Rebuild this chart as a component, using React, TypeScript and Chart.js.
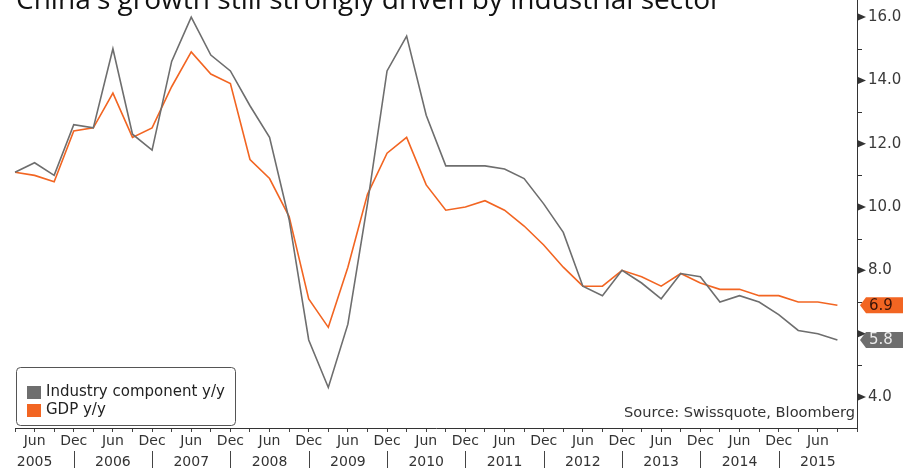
import React, { useEffect, useRef } from "react";
import { Chart, registerables } from "chart.js";

Chart.register(...registerables);

const TITLE = "China's growth still strongly driven by industrial sector";
const SOURCE = "Source: Swissquote, Bloomberg";
const seriesNames = ["Industry component y/y", "GDP y/y"];
const seriesColors = ["#6e6e6e", "#f26522"];

const years = ["2005", "2006", "2007", "2008", "2009", "2010", "2011", "2012", "2013", "2014", "2015"];
const quarterMonths = ["Mar", "Jun", "Sep", "Dec"];

// Quarterly, Q1 2005 .. Q3 2015
const industry = [
  11.1, 11.4, 11.0, 12.6, 12.5, 15.0, 12.3, 11.8, 14.6, 16.0, 14.8, 14.3,
  13.2, 12.2, 9.6, 5.8, 4.3, 6.3, 10.1, 14.3, 15.4, 12.9, 11.3, 11.3,
  11.3, 11.2, 10.9, 10.1, 9.2, 7.5, 7.2, 8.0, 7.6, 7.1, 7.9, 7.8,
  7.0, 7.2, 7.0, 6.6, 6.1, 6.0, 5.8,
];
const gdp = [
  11.1, 11.0, 10.8, 12.4, 12.5, 13.6, 12.2, 12.5, 13.8, 14.9, 14.2, 13.9,
  11.5, 10.9, 9.7, 7.1, 6.2, 8.1, 10.4, 11.7, 12.2, 10.7, 9.9, 10.0,
  10.2, 9.9, 9.4, 8.8, 8.1, 7.5, 7.5, 8.0, 7.8, 7.5, 7.9, 7.6,
  7.4, 7.4, 7.2, 7.2, 7.0, 7.0, 6.9,
];

const yTickValues = [4, 6, 8, 10, 12, 14, 16];
const yMinorValues = [5, 7, 9, 11, 13, 15];
const Y_MIN = 3.02;
const Y_MAX = 16.54;

const categories: string[] = [];
years.forEach((y) => quarterMonths.forEach((m) => categories.push(`${m} ${y}`)));

const FONT = "'DejaVu Sans', sans-serif";

const decorPlugin = {
  id: "decor",
  afterDraw(chart: any) {
    const ctx: CanvasRenderingContext2D = chart.ctx;
    const area = chart.chartArea;
    const xs = chart.scales.x;
    const ys = chart.scales.y;
    const W = chart.width;
    const H = chart.height;
    ctx.save();

    // Title (cropped at top)
    ctx.font = `22px 'Open Sans', sans-serif`;
    const w0 = ctx.measureText(TITLE).width;
    const size = (22 * 706) / w0;
    ctx.font = `${size}px 'Open Sans', sans-serif`;
    ctx.fillStyle = "#111";
    ctx.textAlign = "left";
    ctx.textBaseline = "alphabetic";
    ctx.fillText(TITLE, 16, 9);

    // Y-axis markers
    const ax = area.right;
    ctx.fillStyle = "#333";
    ctx.strokeStyle = "#333";
    ctx.lineWidth = 1;
    yTickValues.forEach((v) => {
      const py = ys.getPixelForValue(v);
      ctx.beginPath();
      ctx.moveTo(ax + 1, py - 3.5);
      ctx.lineTo(ax + 9, py);
      ctx.lineTo(ax + 1, py + 3.5);
      ctx.closePath();
      ctx.fill();
    });
    yMinorValues.forEach((v) => {
      const py = Math.round(ys.getPixelForValue(v)) + 0.5;
      ctx.beginPath();
      ctx.moveTo(ax, py);
      ctx.lineTo(ax + 5, py);
      ctx.stroke();
    });

    // Year separators
    ctx.strokeStyle = "#444";
    categories.forEach((c, i) => {
      if (c.startsWith("Dec") && i < categories.length - 1) {
        const px = Math.round(xs.getPixelForValue(i)) + 0.5;
        ctx.beginPath();
        ctx.moveTo(px, area.bottom + 23);
        ctx.lineTo(px, H);
        ctx.stroke();
      }
    });

    // Legend box
    const lx = area.left + 1;
    const ly = area.bottom - 61;
    const lw = 219;
    const lh = 58;
    ctx.beginPath();
    (ctx as any).roundRect(lx + 0.5, ly + 0.5, lw, lh, 4);
    ctx.fillStyle = "#ffffff";
    ctx.fill();
    ctx.strokeStyle = "#555";
    ctx.stroke();
    ctx.font = `15px ${FONT}`;
    ctx.textBaseline = "middle";
    chart.data.datasets.forEach((ds: any, i: number) => {
      const cy = ly + 25 + i * 18;
      ctx.fillStyle = ds.borderColor;
      ctx.fillRect(lx + 11, cy - 6, 14, 13);
      ctx.fillStyle = "#222";
      ctx.fillText(ds.label, lx + 30, cy);
    });

    // Source
    ctx.font = `14.6px ${FONT}`;
    ctx.fillStyle = "#333";
    ctx.textAlign = "right";
    ctx.fillText(SOURCE, ax - 2, area.bottom - 15);

    // End-value labels
    ctx.font = `15px ${FONT}`;
    ctx.textAlign = "left";
    chart.data.datasets.forEach((ds: any, i: number) => {
      const v = ds.data[ds.data.length - 1];
      const py = ys.getPixelForValue(v);
      const h = 16;
      ctx.beginPath();
      ctx.moveTo(ax + 3, py);
      ctx.lineTo(ax + 9, py - h / 2);
      ctx.lineTo(W, py - h / 2);
      ctx.lineTo(W, py + h / 2);
      ctx.lineTo(ax + 9, py + h / 2);
      ctx.closePath();
      ctx.fillStyle = ds.borderColor;
      ctx.fill();
      ctx.fillStyle = i === 0 ? "#ececec" : "#3a1408";
      ctx.fillText(v.toFixed(1), ax + 12, py + 0.5);
    });

    ctx.restore();
  },
};

export default function App() {
  const ref = useRef<HTMLCanvasElement | null>(null);

  useEffect(() => {
    if (!ref.current) return;
    const lastVals = [industry[industry.length - 1], gdp[gdp.length - 1]];
    const nData = industry.length;
    const chart = new Chart(ref.current, {
      type: "line",
      data: {
        labels: categories,
        datasets: [
          {
            label: seriesNames[0],
            data: industry,
            borderColor: seriesColors[0],
            backgroundColor: seriesColors[0],
            borderWidth: 1.6,
            pointRadius: 0,
            tension: 0,
          },
          {
            label: seriesNames[1],
            data: gdp,
            borderColor: seriesColors[1],
            backgroundColor: seriesColors[1],
            borderWidth: 1.6,
            pointRadius: 0,
            tension: 0,
          },
        ],
      },
      options: {
        animation: false,
        responsive: true,
        maintainAspectRatio: false,
        layout: { padding: { left: 15, top: 0, right: 0, bottom: 0 } },
        plugins: {
          legend: { display: false },
          tooltip: { enabled: false },
          title: { display: false },
        },
        scales: {
          x: {
            type: "category",
            offset: false,
            grid: {
              display: true,
              drawOnChartArea: false,
              drawTicks: true,
              tickLength: 4,
              color: "#444",
            },
            border: { display: true, color: "#333", width: 1 },
            ticks: {
              autoSkip: false,
              maxRotation: 0,
              minRotation: 0,
              padding: -1,
              color: "#333",
              font: { family: FONT, size: 14, lineHeight: 1.5 },
              callback: (_v: any, index: number) => {
                if (index >= nData) return "";
                const [m, y] = categories[index].split(" ");
                if (m === "Jun") return ["Jun", y];
                if (m === "Dec") return ["Dec", ""];
                return "";
              },
            },
            afterFit: (scale: any) => {
              scale.height = 40;
              scale.paddingLeft = 0;
              scale.paddingRight = 0;
            },
          },
          y: {
            type: "linear",
            position: "right",
            min: Y_MIN,
            max: Y_MAX,
            grid: { display: false, drawTicks: false },
            border: { display: true, color: "#333", width: 1 },
            afterBuildTicks: (scale: any) => {
              scale.ticks = yTickValues.map((value) => ({ value }));
            },
            ticks: {
              padding: 11,
              color: "#3a3a3a",
              font: { family: FONT, size: 15 },
              callback: (v: any) => {
                const n = Number(v);
                if (lastVals.some((lv) => Math.abs(lv - n) < 0.5)) return "";
                return n.toFixed(1);
              },
            },
            afterFit: (scale: any) => {
              scale.width = 46;
              scale.paddingTop = 0;
              scale.paddingBottom = 0;
            },
          },
        },
      },
      plugins: [decorPlugin],
    });
    return () => chart.destroy();
  }, []);

  return (
    <div style={{ position: "absolute", left: 0, top: 0, width: 903, height: 468 }}>
      <canvas ref={ref} />
    </div>
  );
}
